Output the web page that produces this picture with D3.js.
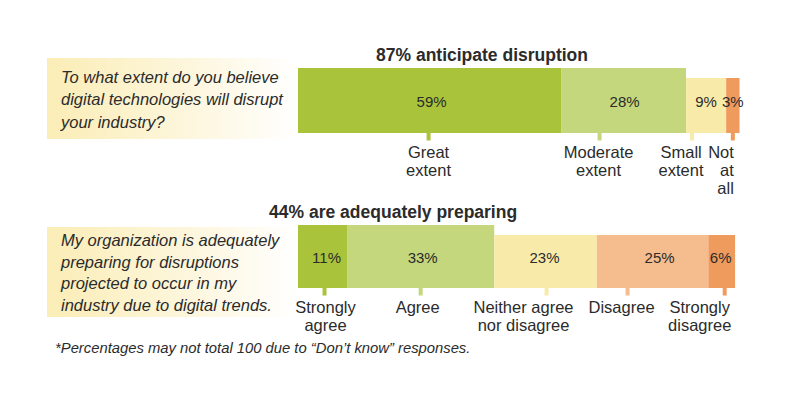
<!DOCTYPE html>
<html>
<head>
<meta charset="utf-8">
<script src="https://cdn.jsdelivr.net/npm/d3@7"></script>
<style>
  body { margin: 0; background: #fff; }
  text { font-family: "Liberation Sans", Arial, sans-serif; fill: #2b2b2b; }
</style>
</head>
<body>
<div id="chart"></div>
<script>

    // ---- data ----
    const q1Question = ["To what extent do you believe", "digital technologies will disrupt", "your industry?"];
    const q1Title = "87% anticipate disruption";
    const q1Summary = 87;
    const q1Categories = ["Great extent", "Moderate extent", "Small extent", "Not at all"];
    const q1Labels = [["Great", "extent"], ["Moderate", "extent"], ["Small", "extent"], ["Not", "at", "all"]];
    const q1Values = [59, 28, 9, 3];

    const q2Question = ["My organization is adequately", "preparing for disruptions", "projected to occur in my", "industry due to digital trends."];
    const q2Title = "44% are adequately preparing";
    const q2Summary = 44;
    const q2Categories = ["Strongly agree", "Agree", "Neither agree nor disagree", "Disagree", "Strongly disagree"];
    const q2Labels = [["Strongly", "agree"], ["Agree"], ["Neither agree", "nor disagree"], ["Disagree"], ["Strongly", "disagree"]];
    const q2Values = [11, 33, 23, 25, 6];

    const footnote = "*Percentages may not total 100 due to \u201cDon\u2019t know\u201d responses.";

    // ---- layout / styles ----
    const width = 800, height = 397;
    const x = d3.scaleLinear().domain([0, 100]).range([298, 744]);

    const panels = [
        {
            question: q1Question, title: q1Title, summary: q1Summary, cats: q1Categories, labels: q1Labels, values: q1Values,
            colors: ["#a9c43b", "#c4d77c", "#f8ebaa", "#ef9b5d"],
            barTop: 68, barBottom: 133, boxTop: 58, boxBottom: 139, lineH: 22.5, titleY: 61, titleDx: -10,
            tickDx: [-1, -24, -14, 0], labelDx: [-1, -25, -25, 1], labelAnchor: ["middle", "middle", "middle", "end"],
            pctDx: [2, 1, 0, 0]
        },
        {
            question: q2Question, title: q2Title, summary: q2Summary, cats: q2Categories, labels: q2Labels, values: q2Values,
            colors: ["#a9c43b", "#c4d77c", "#f8ebaa", "#f5bc8d", "#ef9b5d"],
            barTop: 225, barBottom: 288, boxTop: 227, boxBottom: 317, lineH: 21.7, titleY: 218, titleDx: -3,
            tickDx: [2, 0, 1, -25, 3], labelDx: [3, -3, -22, -31, -22], labelAnchor: ["middle", "middle", "middle", "middle", "middle"],
            pctDx: [4, 2, -1, 7, -1]
        }
    ];

    const svg = d3.select("#chart").append("svg")
        .attr("width", width).attr("height", height);

    const grad = svg.append("defs").append("linearGradient")
        .attr("id", "boxFade").attr("x1", "0%").attr("x2", "100%");
    grad.append("stop").attr("offset", "0%").attr("stop-color", "#fbedb6");
    grad.append("stop").attr("offset", "55%").attr("stop-color", "#fdf6dc");
    grad.append("stop").attr("offset", "100%").attr("stop-color", "#ffffff");

    panels.forEach(function (p) {
        const g = svg.append("g");

        // stack the values
        let acc = 0;
        const segs = p.values.map(function (v, i) {
            const s = { cat: p.cats[i], label: p.labels[i], value: v, x0: acc, x1: acc + v, i: i };
            acc += v;
            s.tall = s.x1 <= p.summary; // segments that make up the headline figure
            return s;
        });

        // question box
        g.append("rect")
            .attr("x", 47).attr("y", p.boxTop)
            .attr("width", x(0) - 47).attr("height", p.boxBottom - p.boxTop)
            .attr("fill", "url(#boxFade)");

        const boxMid = (p.boxTop + p.boxBottom) / 2;
        const firstLine = boxMid - (p.question.length - 1) / 2 * p.lineH + 6.5;
        g.append("text")
            .attr("font-size", 16.5).attr("font-style", "italic")
            .selectAll("tspan").data(p.question).join("tspan")
            .attr("x", 61)
            .attr("y", function (d, i) { return firstLine + i * p.lineH; })
            .text(function (d) { return d; });

        // title centred over the headline segments
        const tallEnd = d3.max(segs.filter(function (s) { return s.tall; }), function (s) { return s.x1; });
        g.append("text")
            .attr("x", (x(0) + x(tallEnd)) / 2 + p.titleDx)
            .attr("y", p.titleY)
            .attr("text-anchor", "middle")
            .attr("font-size", 17.5).attr("font-weight", "bold")
            .attr("fill", "#231f20")
            .text(p.title);

        // bars
        g.selectAll(".seg").data(segs).join("rect")
            .attr("class", "seg")
            .attr("x", function (d) { return x(d.x0); })
            .attr("width", function (d) { return x(d.x1) - x(d.x0); })
            .attr("y", function (d) { return d.tall ? p.barTop : p.barTop + 10; })
            .attr("height", function (d) { return p.barBottom - (d.tall ? p.barTop : p.barTop + 10); })
            .attr("fill", function (d) { return p.colors[d.i]; });

        // ticks
        g.selectAll(".tick").data(segs).join("rect")
            .attr("class", "tick")
            .attr("x", function (d) { return (x(d.x0) + x(d.x1)) / 2 + p.tickDx[d.i] - 2; })
            .attr("y", p.barBottom)
            .attr("width", 4).attr("height", 7.5)
            .attr("fill", function (d) { return p.colors[d.i]; });

        // percentages
        const pctY = (p.barTop + p.barBottom) / 2 + 6;
        g.selectAll(".pct").data(segs).join("text")
            .attr("class", "pct")
            .attr("x", function (d) { return (x(d.x0) + x(d.x1)) / 2 + p.pctDx[d.i]; })
            .attr("y", pctY)
            .attr("text-anchor", "middle")
            .attr("font-family", "'Liberation Sans Narrow', 'Liberation Sans', sans-serif")
            .attr("font-size", 15)
            .attr("fill", "#333")
            .text(function (d) { return d.value + "%"; });

        // category labels
        g.selectAll(".lab").data(segs).join("text")
            .attr("class", "lab")
            .attr("text-anchor", function (d) { return p.labelAnchor[d.i]; })
            .attr("font-size", 16.5)
            .each(function (d) {
                const cx = (x(d.x0) + x(d.x1)) / 2 + p.labelDx[d.i];
                d3.select(this).selectAll("tspan").data(d.label).join("tspan")
                    .attr("x", cx)
                    .attr("y", function (t, j) { return p.barBottom + 24.5 + j * 18; })
                    .text(function (t) { return t; });
            });
    });

    svg.append("text")
        .attr("x", 55).attr("y", 353)
        .attr("font-size", 14.8).attr("font-style", "italic")
        .text(footnote);

</script>
</body>
</html>
